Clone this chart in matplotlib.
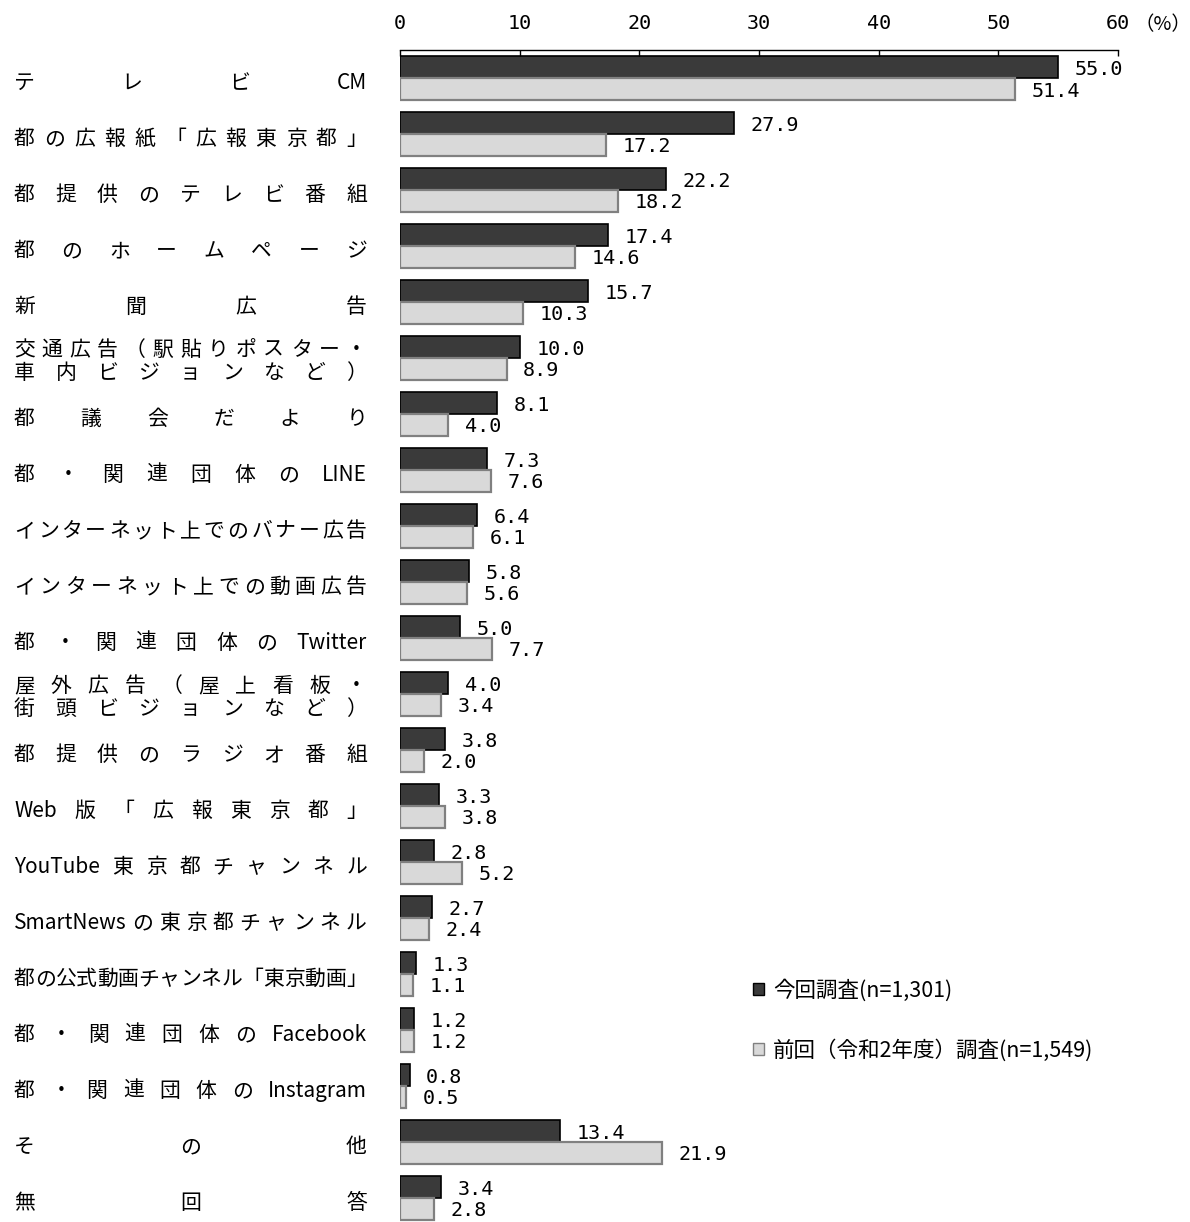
import re
import numpy as np
import matplotlib
matplotlib.use('Agg')
import matplotlib.pyplot as plt
from matplotlib.patches import Patch

# ── Data ────────────────────────────────────────────────────────────────────
labels = [
    'テレビCM',
    '都の広報紙「広報東京都」',
    '都提供のテレビ番組',
    '都のホームページ',
    '新聞広告',
    '交通広告（駅貼りポスター・\n車内ビジョンなど）',
    '都議会だより',
    '都・関連団体のLINE',
    'インターネット上でのバナー広告',
    'インターネット上での動画広告',
    '都・関連団体のTwitter',
    '屋外広告（屋上看板・\n街頭ビジョンなど）',
    '都提供のラジオ番組',
    'Web版「広報東京都」',
    'YouTube東京都チャンネル',
    'SmartNewsの東京都チャンネル',
    '都の公式動画チャンネル「東京動画」',
    '都・関連団体のFacebook',
    '都・関連団体のInstagram',
    'その他',
    '無回答',
]
current = [55.0, 27.9, 22.2, 17.4, 15.7, 10.0, 8.1, 7.3, 6.4, 5.8, 5.0,
           4.0, 3.8, 3.3, 2.8, 2.7, 1.3, 1.2, 0.8, 13.4, 3.4]
previous = [51.4, 17.2, 18.2, 14.6, 10.3, 8.9, 4.0, 7.6, 6.1, 5.6, 7.7,
            3.4, 2.0, 3.8, 5.2, 2.4, 1.1, 1.2, 0.5, 21.9, 2.8]
series_names = ['今回調査(n=1,301)', '前回（令和2年度）調査(n=1,549)']
xticks = [0, 10, 20, 30, 40, 50, 60]

# ── Style ───────────────────────────────────────────────────────────────────
W, H = 1190, 1222
JP = ['Noto Sans CJK JP', 'DejaVu Sans']
NUM = ['DejaVu Sans Mono', 'DejaVu Sans']
c_dark, e_dark = '#3a3a3a', '#000000'
c_light, e_light = '#d9d9d9', '#808080'

fig = plt.figure(figsize=(W / 100, H / 100), dpi=100)
ax = fig.add_axes([400 / W, 0.0, 718 / W, 1 - 50 / H])

y = np.arange(len(labels))
bh = 0.39
ax.barh(y - bh / 2, current, height=bh, color=c_dark, edgecolor=e_dark, lw=1.2)
ax.barh(y + bh / 2, previous, height=bh, color=c_light, edgecolor=e_light, lw=1.6)

for i in range(len(labels)):
    ax.annotate(f'{current[i]:.1f}', (current[i], y[i] - bh / 2), xytext=(12, -1.5),
                textcoords='offset points', va='center', ha='left',
                fontsize=14.5, family=NUM)
    ax.annotate(f'{previous[i]:.1f}', (previous[i], y[i] + bh / 2), xytext=(12, -1.5),
                textcoords='offset points', va='center', ha='left',
                fontsize=14.5, family=NUM)

ax.set_xlim(0, 60)
ax.set_ylim(20.43, -0.5)
ax.set_xticks(xticks)
ax.set_yticks([])
ax.xaxis.tick_top()
ax.tick_params(axis='x', direction='in', length=4, width=1, pad=12,
               labelsize=14.5)
for t in ax.get_xticklabels():
    t.set_family(NUM)
for s in ['left', 'right', 'bottom']:
    ax.spines[s].set_visible(False)
ax.spines['top'].set_linewidth(1)

fig.text(1134 / W, 1 - 25 / H, '（%）', fontsize=14, family=JP,
         ha='left', va='center')

# ── Distributed (justified) category labels ─────────────────────────────────
renderer = fig.canvas.get_renderer()
x_left, x_right = 14, 367
fs = 15


def tokens(s):
    return re.findall(r'[A-Za-z0-9]+|.', s)


def put_line(line, ypix):
    toks = tokens(line)
    texts = [fig.text(0, 1 - ypix / H, tk, fontsize=fs, family=JP,
                      ha='left', va='center') for tk in toks]
    widths = [t.get_window_extent(renderer).width for t in texts]
    gap = (x_right - x_left - sum(widths)) / max(len(toks) - 1, 1)
    x = x_left
    for t, w in zip(texts, widths):
        t.set_x(x / W)
        x += w + gap


for i, lab in enumerate(labels):
    yc = 78 + 56 * i
    lines = lab.split('\n')
    if len(lines) == 1:
        put_line(lines[0], yc + 5)
    else:
        put_line(lines[0], yc - 8)
        put_line(lines[1], yc + 15)

# ── Legend ──────────────────────────────────────────────────────────────────
handles = [Patch(facecolor=c_dark, edgecolor=e_dark, lw=1),
           Patch(facecolor=c_light, edgecolor=e_light, lw=1)]
fig.legend(handles, series_names, loc='upper left',
           bbox_to_anchor=(734 / W, 1 - 960 / H), frameon=False,
           handlelength=0.5, handleheight=0.5, handletextpad=0.4,
           labelspacing=1.73, prop={'family': JP, 'size': 15.5})

fig.savefig('out.png', dpi=100, facecolor='white')
